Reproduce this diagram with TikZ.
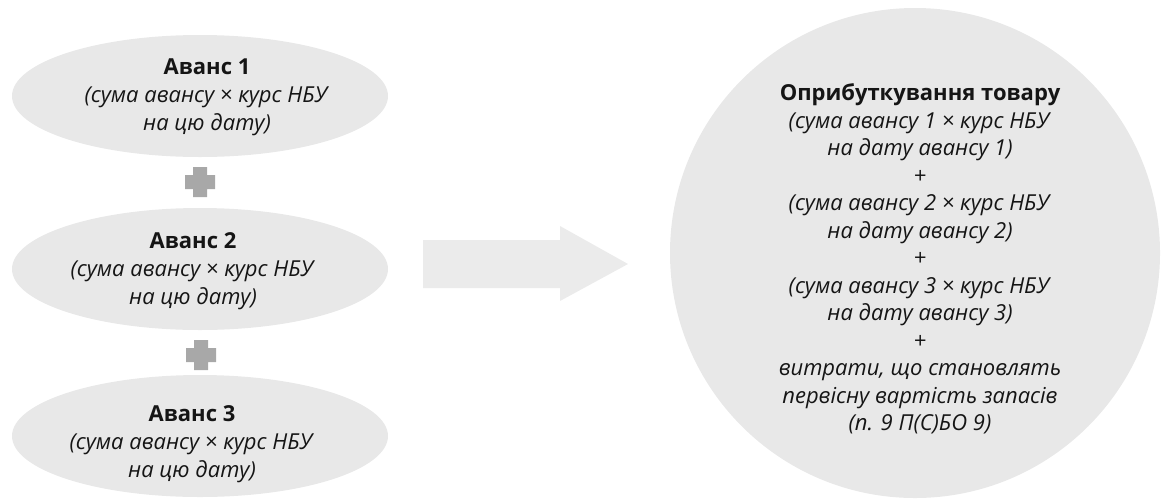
\documentclass[tikz,border=0pt]{standalone}
\usepackage{fontspec}
\setmainfont{Open Sans}
\usetikzlibrary{shapes.geometric}
\definecolor{shapefill}{HTML}{E8E8E8}
\definecolor{arrowfill}{HTML}{EBEBEB}
\definecolor{plusfill}{HTML}{A8A8A8}
\definecolor{txt}{HTML}{151515}
\tikzset{
  avans/.style={ellipse, fill=shapefill, minimum width=376pt, minimum height=122pt,
    inner sep=0pt},
  avanstext/.style={inner sep=0pt, align=center, text=txt, font=\fontsize{22}{28}\selectfont},
  total/.style={circle, fill=shapefill, minimum size=490pt, inner sep=0pt},
  plusmark/.pic={\fill[plusfill] (-7,-15) -- (7,-15) -- (7,-7) -- (15,-7) -- (15,7) -- (7,7)
    -- (7,15) -- (-7,15) -- (-7,7) -- (-15,7) -- (-15,-7) -- (-7,-7) -- cycle;},
  bigarrow/.style={fill=arrowfill}
}
\begin{document}
\begin{tikzpicture}[x=1pt,y=-1pt]
\useasboundingbox (0,0) rectangle (1161,499);
\node[avans] (a1) at (200,96) {};
\node[avans] (a2) at (200,269) {};
\node[avans] (a3) at (200,436) {};
\node[avanstext] (t1) at ([xshift=7pt,yshift=-1pt]a1.center) {\textbf{Аванс 1}\\\textit{(сума авансу × курс НБУ}\\\textit{на цю дату)}};
\node[avanstext] (t2) at ([xshift=-7pt,yshift=-2pt]a2.center) {\textbf{Аванс 2}\\\textit{(сума авансу × курс НБУ}\\\textit{на цю дату)}};
\node[avanstext] (t3) at ([xshift=-8pt,yshift=-8pt]a3.center) {\textbf{Аванс 3}\\\textit{(сума авансу × курс НБУ}\\\textit{на цю дату)}};
\coordinate (p1) at (200,182);
\coordinate (p2) at (201,355);
\pic at (p1) {plusmark};
\pic at (p2) {plusmark};
\coordinate (arrS) at (423,264);
\coordinate (arrT) at (628,264);
\fill[bigarrow] ([yshift=-24pt]arrS) -- ([xshift=-68pt,yshift=-24pt]arrT) -- ([xshift=-68pt,yshift=-37pt]arrT)
  -- (arrT) -- ([xshift=-68pt,yshift=38pt]arrT) -- ([xshift=-68pt,yshift=24pt]arrT) -- ([yshift=24pt]arrS) -- cycle;
\node[total] (sum) at (915,253) {};
\node[avanstext, font=\fontsize{22}{27.5}\selectfont] (sumtext) at ([xshift=5pt,yshift=-6pt]sum.center) {\textbf{Оприбуткування товару}\\
\textit{(сума авансу 1 × курс НБУ}\\\textit{на дату авансу 1)}\\\textit{+}\\
\textit{(сума авансу 2 × курс НБУ}\\\textit{на дату авансу 2)}\\\textit{+}\\
\textit{(сума авансу 3 × курс НБУ}\\\textit{на дату авансу 3)}\\\textit{+}\\
\textit{витрати, що становлять}\\\textit{первісну вартість запасів}\\\textit{(п. 9 П(С)БО 9)}};
\end{tikzpicture}
\end{document}
